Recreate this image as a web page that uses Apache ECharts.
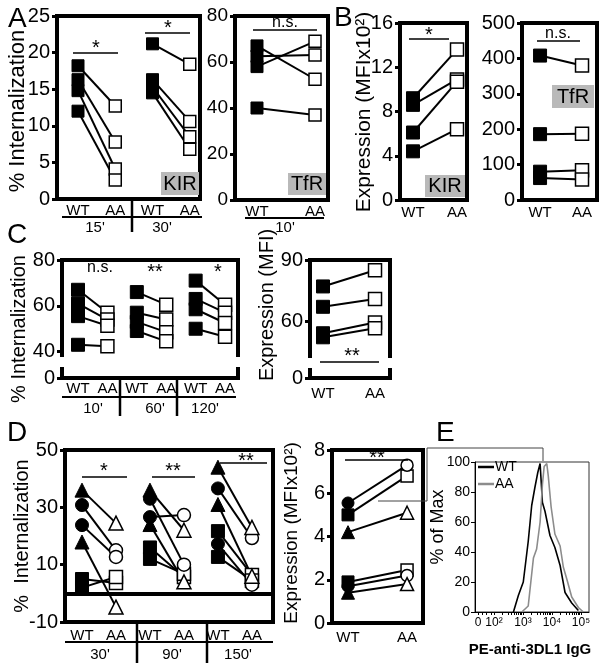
<!DOCTYPE html>
<html><head><meta charset="utf-8">
<script src="https://cdn.jsdelivr.net/npm/echarts@6/dist/echarts.min.js"></script>
<style>html,body{margin:0;padding:0;background:#fff}#c{width:602px;height:668px}</style>
</head><body><div id="c"></div><script>
const FONT = '"Liberation Sans", Arial, "DejaVu Sans", sans-serif';

// ---------- DATA ----------
// Panel A: % internalization, KIR (15' and 30') and TfR (10')
const aKir15WT = [18.2, 16.3, 14.8, 12.0];
const aKir15AA = [12.7, 7.8, 4.1, 2.6];
const aKir30WT = [21.2, 16.3, 15.3, 14.5];
const aKir30AA = [18.4, 10.6, 8.5, 6.8];
const aTfrWT = [67, 58, 62.5, 40];
const aTfrAA = [52.5, 69, 63, 37];
// Panel B: expression
const bKirWT = [9.2, 8.6, 6.1, 4.4];
const bKirAA = [13.6, 10.9, 10.7, 6.4];
const bTfrWT = [408, 186, 80, 62];
const bTfrAA = [380, 187, 84, 58];
// Panel C: % internalization at 10', 60', 120'
const c10WT = [67, 61, 55.5, 43];
const c10AA = [57, 54, 51.3, 42.4];
const c60WT = [66, 57, 53, 49];
const c60AA = [60.5, 54, 48.5, 44.5];
const c120WT = [71, 63, 58.5, 50];
const c120AA = [60.5, 57, 52.5, 46.5];
// Panel C: expression (MFI)
const cExpWT = [77, 67, 54, 52];
const cExpAA = [85, 70.8, 59.3, 56.5];
// Panel D: % internalization, donors marked triangle / circle / square
const d30TriWT = [36, 17.9],   d30TriAA = [24.5, -4.8];
const d30CirWT = [30.8, 23.8], d30CirAA = [15, 12.7];
const d30SqWT  = [5, 2],       d30SqAA  = [3.6, 5.7];
const d90TriWT = [36, 24],     d90TriAA = [22, 4];
const d90CirWT = [26.6, 33],   d90CirAA = [27.3, 10];
const d90SqWT  = [16, 12],     d90SqAA  = [5.7, 6.8];
const d150TriWT = [44, 31],    d150TriAA = [23, 6];
const d150CirWT = [36.6, 17.2],d150CirAA = [19.3, 3];
const d150SqWT  = [21.7, 12.7],d150SqAA  = [6.4, 4.5];
// Panel D: expression (MFIx10^2)
const dExpTriWT = [4.2, 1.4], dExpTriAA = [5.1, 1.8];
const dExpCirWT = [5.55, 1.7], dExpCirAA = [7.3, 2.2];
const dExpSqWT  = [5.0, 1.9], dExpSqAA  = [6.8, 2.45];
// Panel E: histogram, x in log10 fluorescence, y in % of max
const eWTx = [2.67, 2.84, 3.01, 3.18, 3.30, 3.41, 3.51, 3.59, 3.67, 3.76, 3.93, 4.10, 4.28, 4.45, 4.68, 4.91];
const eWTy = [0, 11, 20, 47, 71, 83, 93, 99, 73, 67, 51, 43, 31, 13, 6, 1];
const eAAx = [2.96, 3.18, 3.36, 3.47, 3.59, 3.67, 3.73, 3.82, 3.87, 3.97, 4.10, 4.28, 4.39, 4.51, 4.68, 4.91, 5.08];
const eAAy = [0, 4, 36, 42, 60, 85, 97, 99, 91, 70, 52, 44, 30, 22, 10, 3, 0];
const eTickVals = [1.45, 2, 3, 4, 5];
const eTickLabels = ['0', '10²', '10³', '10⁴', '10⁵'];
const groupLabels = ['WT', 'AA'];

// ---------- BUILD ----------
const grids = [], xAxes = [], yAxes = [], series = [], G = [];

function panel(p) {
  const i = grids.length;
  grids.push({left: p.left, top: p.top, width: p.width, height: p.height, show: true,
    borderColor: p.borderColor || '#000', borderWidth: p.bw == null ? 4 : p.bw, backgroundColor: 'transparent'});
  xAxes.push({type: 'value', gridIndex: i, min: p.xmin, max: p.xmax,
    axisLine: {show: true, onZero: false, lineStyle: {color: '#000', width: p.axw || 4}},
    axisTick: p.xTick || {show: false}, splitLine: {show: false},
    axisLabel: {customValues: p.xvals, formatter: p.xfmt, color: '#000', fontSize: p.xfs || 15, fontFamily: FONT,
      margin: p.xmargin || 5, showMinLabel: true, showMaxLabel: true}});
  const y = {type: 'value', gridIndex: i, min: p.ymin, max: p.ymax,
    axisLine: {show: true, onZero: false, lineStyle: {color: '#000', width: p.axw || 4}},
    axisTick: {show: true, inside: false, length: p.tickLen || 5, lineStyle: {color: '#000', width: p.tickW || 3}},
    splitLine: {show: false},
    axisLabel: {color: '#000', fontSize: p.yfs || 20, fontFamily: FONT, margin: p.ymargin || 7,
      showMinLabel: true, showMaxLabel: true}};
  if (p.interval) y.interval = p.interval;
  if (p.ycustom) { y.axisLabel.customValues = p.ycustom; y.axisTick.customValues = p.ycustom; }
  if (p.yfmt) y.axisLabel.formatter = p.yfmt;
  yAxes.push(y);
  return i;
}

function pairs(gi, xw, xa, wt, aa, sym, size) {
  wt.forEach((v, k) => {
    series.push({type: 'line', xAxisIndex: gi, yAxisIndex: gi, symbol: sym, symbolSize: size,
      showSymbol: true, clip: false, animation: false, emphasis: {disabled: true}, silent: true,
      lineStyle: {color: '#000', width: 2},
      data: [
        {value: [xw, v], itemStyle: {color: '#000', borderColor: '#000', borderWidth: 1}},
        {value: [xa, aa[k]], itemStyle: {color: '#fff', borderColor: '#000', borderWidth: 1.5}}
      ]});
  });
}

const wtaa = v => groupLabels[Math.round(v) % 2];

// A: KIR internalization
const gA1 = panel({left: 57, top: 16, width: 143, height: 183, xmin: -0.564, xmax: 3.275,
  xvals: [0, 1, 2, 3], xfmt: wtaa, xmargin: 4, ymin: 0, ymax: 25, interval: 5});
pairs(gA1, 0, 1, aKir15WT, aKir15AA, 'rect', 12);
pairs(gA1, 2, 3, aKir30WT, aKir30AA, 'rect', 12);
// A: TfR
const gA2 = panel({left: 235, top: 16, width: 93, height: 184, xmin: -0.379, xmax: 1.224,
  xvals: [0, 1], xfmt: wtaa, xmargin: 4, ymin: 0, ymax: 80, interval: 20, yfs: 19});
pairs(gA2, 0, 1, aTfrWT, aTfrAA, 'rect', 12);
// B: KIR expression
const gB1 = panel({left: 400, top: 23, width: 67, height: 177, xmin: -0.295, xmax: 1.227,
  xvals: [0, 1], xfmt: wtaa, xmargin: 5, ymin: 0, ymax: 16, interval: 4});
pairs(gB1, 0, 1, bKirWT, bKirAA, 'rect', 13);
// B: TfR expression
const gB2 = panel({left: 522, top: 23, width: 75, height: 177, xmin: -0.43, xmax: 1.357,
  xvals: [0, 1], xfmt: wtaa, xmargin: 5, ymin: 0, ymax: 500, interval: 100});
pairs(gB2, 0, 1, bTfrWT, bTfrAA, 'rect', 13);
// C: internalization (broken axis: bottom value shown as 0)
const gC1 = panel({left: 62, top: 260, width: 176, height: 118, xmin: -0.544, xmax: 5.44,
  xvals: [0, 1, 2, 3, 4, 5], xfmt: wtaa, xmargin: 3, ymin: 28.5, ymax: 80,
  ycustom: [28.5, 40, 60, 80], yfmt: v => (v < 30 ? '0' : String(v))});
pairs(gC1, 0, 1, c10WT, c10AA, 'rect', 13);
pairs(gC1, 2, 3, c60WT, c60AA, 'rect', 13);
pairs(gC1, 4, 5, c120WT, c120AA, 'rect', 13);
// C: expression
const gC2 = panel({left: 310, top: 260, width: 80, height: 118, xmin: -0.25, xmax: 1.288,
  xvals: [0, 1], xfmt: wtaa, xmargin: 8, ymin: 32, ymax: 90,
  ycustom: [32, 60, 90], yfmt: v => (v < 40 ? '0' : String(v))});
pairs(gC2, 0, 1, cExpWT, cExpAA, 'rect', 13);
// D: internalization
const gD1 = panel({left: 65, top: 450, width: 208, height: 172, xmin: -0.5, xmax: 5.62,
  xvals: [0, 1, 2, 3, 4, 5], xfmt: wtaa, xmargin: 6, ymin: -10, ymax: 50, ycustom: [-10, 10, 30, 50]});
pairs(gD1, 0, 1, d30SqWT, d30SqAA, 'rect', 13);
pairs(gD1, 0, 1, d30CirWT, d30CirAA, 'circle', 13);
pairs(gD1, 0, 1, d30TriWT, d30TriAA, 'triangle', 14);
pairs(gD1, 2, 3, d90SqWT, d90SqAA, 'rect', 13);
pairs(gD1, 2, 3, d90CirWT, d90CirAA, 'circle', 13);
pairs(gD1, 2, 3, d90TriWT, d90TriAA, 'triangle', 14);
pairs(gD1, 4, 5, d150SqWT, d150SqAA, 'rect', 13);
pairs(gD1, 4, 5, d150CirWT, d150CirAA, 'circle', 13);
pairs(gD1, 4, 5, d150TriWT, d150TriAA, 'triangle', 14);
series.push({type: 'line', xAxisIndex: gD1, yAxisIndex: gD1, data: [], silent: true, animation: false,
  markLine: {silent: true, symbol: 'none', label: {show: false}, animation: false,
    lineStyle: {color: '#000', width: 4, type: 'solid'}, data: [{yAxis: 0}]}});
// D: expression
const gD2 = panel({left: 332, top: 450, width: 91, height: 173, xmin: -0.271, xmax: 1.27,
  xvals: [0, 1], xfmt: wtaa, xmargin: 7, ymin: 0, ymax: 8, interval: 2});
pairs(gD2, 0, 1, dExpSqWT, dExpSqAA, 'rect', 12);
pairs(gD2, 0, 1, dExpCirWT, dExpCirAA, 'circle', 12);
pairs(gD2, 0, 1, dExpTriWT, dExpTriAA, 'triangle', 13);
// E: histogram
const eMinor = [];
[1.6, 1.75, 1.9].forEach(v => eMinor.push(v));
for (let d = 2; d < 5; d++) for (let k = 1; k < 10; k++) eMinor.push(d + Math.log10(k));
eMinor.push(5);
const gE = panel({left: 475, top: 462, width: 114, height: 150, xmin: 1.345, xmax: 5.276, bw: 1, axw: 1,
  borderColor: '#333', xvals: eTickVals, xfmt: v => eTickLabels[eTickVals.indexOf(v)] || '', xfs: 12, xmargin: 5,
  xTick: {show: true, inside: false, length: 3, customValues: eMinor.concat([1.45]), lineStyle: {color: '#000', width: 1}},
  ymin: 0, ymax: 100, interval: 20, yfs: 14, ymargin: 5, tickLen: 4, tickW: 1});
series.push({type: 'line', xAxisIndex: gE, yAxisIndex: gE, symbol: 'none', animation: false, silent: true,
  lineStyle: {color: '#000', width: 1.6}, data: eWTx.map((x, i) => [x, eWTy[i]])});
series.push({type: 'line', xAxisIndex: gE, yAxisIndex: gE, symbol: 'none', animation: false, silent: true,
  lineStyle: {color: '#8c8c8c', width: 1.6}, data: eAAx.map((x, i) => [x, eAAy[i]])});

// ---------- ANNOTATIONS ----------
function txt(x, y, t, fs, o) {
  o = o || {};
  G.push({type: 'text', x: x, y: y, rotation: o.rot || 0, z: 100, silent: true,
    style: {text: t, font: (o.bold ? 'bold ' : '') + fs + 'px ' + FONT, fill: o.color || '#000',
      align: o.align || 'center', verticalAlign: 'middle', textAlign: o.align || 'center', textVerticalAlign: 'middle'}});
}
function ln(x1, y1, x2, y2, w, c) {
  G.push({type: 'line', z: 100, silent: true, shape: {x1: x1, y1: y1, x2: x2, y2: y2}, style: {stroke: c || '#000', lineWidth: w || 1.5}});
}
function box(x, y, w, h, c, z) {
  G.push({type: 'rect', z: z || 1, silent: true, shape: {x: x, y: y, width: w, height: h}, style: {fill: c}});
}
const R = Math.PI / 2;
// panel letters
txt(8, 19, 'A', 28, {align: 'left'});
txt(334, 18, 'B', 28, {align: 'left'});
txt(7, 235, 'C', 28, {align: 'left'});
txt(7, 433, 'D', 28, {align: 'left'});
txt(436, 433, 'E', 28, {align: 'left'});
// axis titles
txt(18, 111, '% Internalization', 22, {rot: R});
txt(364, 112, 'Expression (MFIx10²)', 21, {rot: R});
txt(19, 329, '% Internalization', 20, {rot: R});
txt(267, 305, 'Expression (MFI)', 20, {rot: R});
txt(22, 536, '%  Internalization', 20, {rot: R});
txt(292, 533, 'Expression (MFIx10²)', 19, {rot: R});
txt(438, 527, '% of Max', 18, {rot: R});
// gray label boxes
box(161, 172, 38, 23, '#b9b9b9'); txt(180, 184, 'KIR', 20);
box(288, 173, 38, 22, '#b9b9b9'); txt(307, 184, 'TfR', 20);
box(425, 175, 40, 22, '#b9b9b9'); txt(445, 186, 'KIR', 20);
box(552, 85, 42, 23, '#b9b9b9'); txt(573, 97, 'TfR', 20);
// significance
ln(73, 53, 118, 53); txt(96, 48, '*', 20);
ln(145, 33, 190, 33); txt(168, 28, '*', 20);
ln(253, 30, 317, 30); txt(285, 23, 'n.s.', 16);
ln(409, 39, 449, 39); txt(429, 35, '*', 20);
ln(537, 41, 580, 41); txt(558, 34, 'n.s.', 16);
txt(100, 268, 'n.s.', 16); txt(155, 272, '**', 20); txt(218, 272, '*', 20);
ln(320, 362, 379, 362); txt(352, 356, '**', 20);
ln(82, 477, 127, 477); txt(104, 471, '*', 20);
ln(152, 477, 195, 477); txt(173, 471, '**', 20);
ln(220, 463, 267, 463); txt(246, 461, '**', 20);
ln(345, 460, 408, 460); txt(377, 458, '**', 20);
// group underlines, time labels, dividers
ln(62, 217, 202, 217, 2); ln(132, 199, 132, 232, 2.5);
txt(95, 228, "15'", 15); txt(162, 228, "30'", 15);
ln(245, 218, 324, 218, 2); txt(285, 228, "10'", 15);
ln(62, 397, 236, 397, 2); ln(120, 378, 120, 416, 2.5); ln(177, 378, 177, 416, 2.5);
txt(93, 409, "10'", 15); txt(155, 409, "60'", 15); txt(205, 409, "120'", 15);
ln(65, 642, 273, 642, 2); ln(137, 622, 137, 663, 2.5); ln(207, 622, 207, 663, 2.5);
txt(100, 655, "30'", 15); txt(172, 655, "90'", 15); txt(238, 655, "150'", 15);
// axis breaks in C
box(57, 357, 10, 10, '#fff', 50); box(233, 357, 10, 10, '#fff', 50);
box(305, 358, 10, 10, '#fff', 50); box(385, 358, 10, 10, '#fff', 50);
// connector D -> E
G.push({type: 'polyline', z: 100, silent: true, shape: {points: [[378, 501], [427, 501], [427, 448], [543, 448], [543, 461]]},
  style: {stroke: '#444', lineWidth: 1, fill: null}});
// E legend and title
ln(478, 467, 494, 467, 2.5, '#000'); txt(495, 467, 'WT', 14, {align: 'left'});
ln(478, 484, 494, 484, 2.5, '#8c8c8c'); txt(495, 484, 'AA', 14, {align: 'left'});
txt(530, 650, 'PE-anti-3DL1 IgG', 15, {bold: true});

const chart = echarts.init(document.getElementById('c'), null, {renderer: 'canvas'});
chart.setOption({animation: false, backgroundColor: '#fff', grid: grids, xAxis: xAxes, yAxis: yAxes, series: series, graphic: G});
</script></body></html>
